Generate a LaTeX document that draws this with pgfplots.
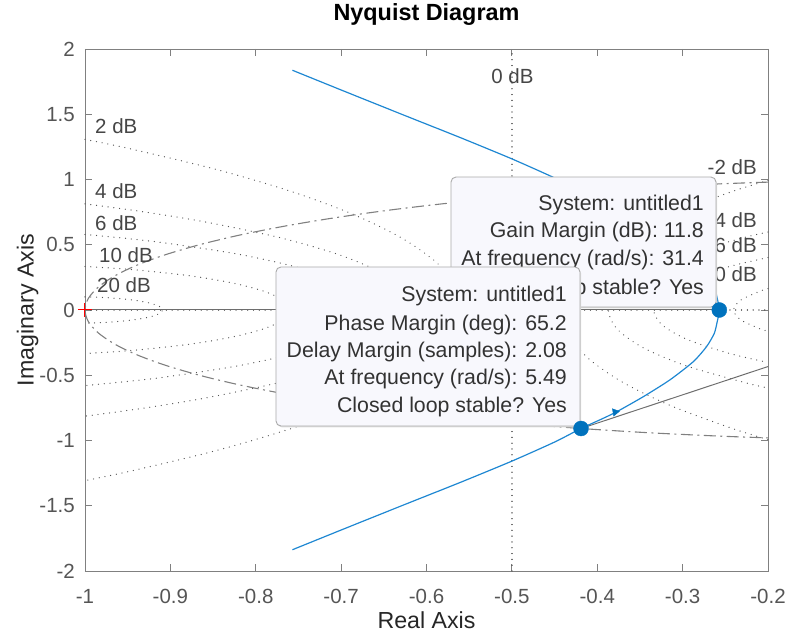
\documentclass[border=0pt]{standalone}
\usepackage{fontspec}
\setmainfont{Liberation Sans}
\usepackage{pgfplots}
\pgfplotsset{compat=1.18}
\definecolor{mblue}{RGB}{0,114,189}
\definecolor{lblue}{RGB}{30,135,210}
\definecolor{axgray}{RGB}{128,128,128}
\definecolor{txtgray}{RGB}{85,85,85}
\definecolor{gridgray}{RGB}{85,85,85}
\definecolor{lblgray}{RGB}{70,70,70}
\definecolor{tipfill}{RGB}{248,248,253}
\definecolor{tipdraw}{RGB}{170,170,170}
\definecolor{tiptext}{RGB}{50,50,50}
\definecolor{margray}{RGB}{110,110,110}
\pgfplotsset{
  mcircle/.style={gridgray, line width=1.3pt, line cap=round, dash pattern=on 0.01pt off 5.8pt, smooth, tension=0.5},
}
\tikzset{
  dblabel/.style={font=\fontsize{20.5}{24}\selectfont, text=lblgray, inner sep=0pt},
  tipline/.style={font=\fontsize{21.3}{25}\selectfont, text=tiptext, inner sep=0pt, anchor=base east},
}
\begin{document}
\begin{tikzpicture}
\useasboundingbox (-85pt,-63pt) rectangle (704pt,571pt);
\begin{axis}[
  at={(0,0)}, anchor=south west,
  width=683pt, height=522pt, scale only axis,
  xmin=-1, xmax=-0.2, ymin=-2, ymax=2,
  clip=false,
  axis line style={axgray, line width=0.8pt},
  tick style={axgray, line width=0.8pt},
  major tick length=7pt,
  xtick={-1,-0.9,-0.8,-0.7,-0.6,-0.5,-0.4,-0.3,-0.2},
  xticklabels={-1,-0.9,-0.8,-0.7,-0.6,-0.5,-0.4,-0.3,-0.2},
  ytick={-2,-1.5,-1,-0.5,0,0.5,1,1.5,2},
  yticklabels={-2,-1.5,-1,-0.5,0,0.5,1,1.5,2},
  tick label style={font=\fontsize{20.5}{24}\selectfont, text=txtgray, inner sep=0pt},
  xticklabel style={anchor=base, yshift=-32pt},
  yticklabel style={anchor=east, xshift=-10pt},
  title={Nyquist Diagram},
  title style={font=\fontsize{23.4}{28}\selectfont\bfseries, at={(axis description cs:0.5,1.0427)}, anchor=base, inner sep=0pt},
  xlabel={Real Axis}, ylabel={Imaginary Axis},
  xlabel style={font=\fontsize{23.2}{28}\selectfont, text=black!85, at={(axis description cs:0.5,-0.111)}, anchor=base, inner sep=0pt},
  ylabel style={font=\fontsize{23.2}{28}\selectfont, text=black!85, at={(axis description cs:-0.0754,0.5)}, anchor=base, inner sep=0pt},
]
% real axis and 0 dB line (dotted grid)
\addplot[mcircle] coordinates {(-1,0) (-0.2,0)};
\addplot[mcircle] coordinates {(-0.5,-2) (-0.5,2)};
% M-circles, positive dB
\addplot[mcircle] coordinates {(-1,1.3076) (-0.9466,1.2346) (-0.8457,1.0762) (-0.7590,0.9096) (-0.6871,0.7362) (-0.6306,0.5571) (-0.5900,0.3738) (-0.5655,0.1876) (-0.5573,0) (-0.5655,-0.1876) (-0.5900,-0.3738) (-0.6306,-0.5571) (-0.6871,-0.7362) (-0.7590,-0.9096) (-0.8457,-1.0762) (-0.9466,-1.2346) (-1,-1.3076)};
\addplot[mcircle] coordinates {(-1,0.8133) (-0.9332,0.7541) (-0.8584,0.6738) (-0.7724,0.5555) (-0.7037,0.4264) (-0.6537,0.2890) (-0.6233,0.1459) (-0.6131,0) (-0.6233,-0.1459) (-0.6537,-0.2890) (-0.7037,-0.4264) (-0.7724,-0.5555) (-0.8584,-0.6738) (-0.9332,-0.7541) (-1,-0.8133)};
\addplot[mcircle] coordinates {(-1,0.5792) (-0.9515,0.5483) (-0.9052,0.5127) (-0.8227,0.4302) (-0.7558,0.3347) (-0.7065,0.2289) (-0.6763,0.1162) (-0.6661,0) (-0.6763,-0.1162) (-0.7065,-0.2289) (-0.7558,-0.3347) (-0.8227,-0.4302) (-0.9052,-0.5127) (-0.9515,-0.5483) (-1,-0.5792)};
\addplot[mcircle] coordinates {(-1,0.3333) (-0.9682,0.3210) (-0.9354,0.3043) (-0.8760,0.2611) (-0.8269,0.2065) (-0.7901,0.1429) (-0.7674,0.0731) (-0.75975,0) (-0.7674,-0.0731) (-0.7901,-0.1429) (-0.8269,-0.2065) (-0.8760,-0.2611) (-0.9354,-0.3043) (-0.9682,-0.3210) (-1,-0.3333)};
\addplot[mcircle] coordinates {(-1,0.1005) (-0.9840,0.0976) (-0.9596,0.0875) (-0.9387,0.0714) (-0.9226,0.0505) (-0.9125,0.0261) (-0.9091,0) (-0.9125,-0.0261) (-0.9226,-0.0505) (-0.9387,-0.0714) (-0.9596,-0.0875) (-0.9840,-0.0976) (-1,-0.1005)};
% M-circles, negative dB
\addplot[mcircle] coordinates {(-0.2,0.9929) (-0.2411,0.9096) (-0.3129,0.7361) (-0.3694,0.5571) (-0.4100,0.3738) (-0.4345,0.1876) (-0.4427,0) (-0.4345,-0.1876) (-0.4100,-0.3738) (-0.3694,-0.5571) (-0.3129,-0.7361) (-0.2411,-0.9096) (-0.2,-0.9929)};
\addplot[mcircle] coordinates {(-0.2,0.5974) (-0.2276,0.5555) (-0.2963,0.4264) (-0.3463,0.2890) (-0.3767,0.1459) (-0.3869,0) (-0.3767,-0.1459) (-0.3463,-0.2890) (-0.2963,-0.4264) (-0.2276,-0.5555) (-0.2,-0.5974)};
\addplot[mcircle] coordinates {(-0.2,0.4016) (-0.2442,0.3347) (-0.2935,0.2289) (-0.3237,0.1162) (-0.3339,0) (-0.3237,-0.1162) (-0.2935,-0.2289) (-0.2442,-0.3347) (-0.2,-0.4016)};
\addplot[mcircle] coordinates {(-0.2,0.1633) (-0.2099,0.1429) (-0.2326,0.0731) (-0.2403,0) (-0.2326,-0.0731) (-0.2099,-0.1429) (-0.2,-0.1633)};
% unit circle (dash-dot)
\addplot[axgray, line width=1.1pt, dash pattern=on 12pt off 4.5pt on 2pt off 4.5pt, smooth, tension=0.5] coordinates {(-0.2,0.9798) (-0.2588,0.9659) (-0.3420,0.9397) (-0.4226,0.9063) (-0.5,0.8660) (-0.5736,0.8192) (-0.6428,0.7660) (-0.7071,0.7071) (-0.7660,0.6428) (-0.8192,0.5736) (-0.8660,0.5) (-0.9063,0.4226) (-0.9397,0.3420) (-0.9659,0.2588) (-0.9848,0.1736) (-0.9962,0.0872) (-1,0) (-0.9962,-0.0872) (-0.9848,-0.1736) (-0.9659,-0.2588) (-0.9397,-0.3420) (-0.9063,-0.4226) (-0.8660,-0.5) (-0.8192,-0.5736) (-0.7660,-0.6428) (-0.7071,-0.7071) (-0.6428,-0.7660) (-0.5736,-0.8192) (-0.5,-0.8660) (-0.4226,-0.9063) (-0.3420,-0.9397) (-0.2588,-0.9659) (-0.2,-0.9798)};
% margin lines
\addplot[margray, line width=1pt] coordinates {(-1,0) (-0.257,0)};
\addplot[margray, line width=1pt] coordinates {(-0.419,-0.908) (-0.2,-0.4334)};
% Nyquist curve
\addplot[lblue, line width=1.2pt, smooth, tension=0.4] coordinates {(-0.757,1.837) (-0.70,1.686) (-0.628,1.497) (-0.56,1.32) (-0.5,1.158) (-0.45,1.012) (-0.419,0.908) (-0.395,0.836) (-0.377,0.779) (-0.346,0.664) (-0.315,0.536) (-0.2875,0.396) (-0.272,0.281) (-0.263,0.18) (-0.2595,0.09) (-0.257,0) (-0.2595,-0.09) (-0.263,-0.18) (-0.272,-0.281) (-0.2875,-0.396) (-0.315,-0.536) (-0.346,-0.664) (-0.377,-0.779) (-0.395,-0.836) (-0.419,-0.908) (-0.45,-1.012) (-0.5,-1.158) (-0.56,-1.32) (-0.628,-1.497) (-0.70,-1.686) (-0.757,-1.837)};
% dB labels
\node[dblabel, anchor=base west] at (axis cs:-0.9883,1.356) {2 dB};
\node[dblabel, anchor=base west] at (axis cs:-0.9883,0.8506) {4 dB};
\node[dblabel, anchor=base west] at (axis cs:-0.9883,0.613) {6 dB};
\node[dblabel, anchor=base west] at (axis cs:-0.9836,0.3678) {10 dB};
\node[dblabel, anchor=base west] at (axis cs:-0.9859,0.1379) {20 dB};
\node[dblabel, anchor=base] at (axis cs:-0.4993,1.732) {0 dB};
\node[dblabel, anchor=base east] at (axis cs:-0.213,1.04) {-2 dB};
\node[dblabel, anchor=base east] at (axis cs:-0.213,0.636) {-4 dB};
\node[dblabel, anchor=base east] at (axis cs:-0.213,0.437) {-6 dB};
\node[dblabel, anchor=base east] at (axis cs:-0.213,0.2146) {-10 dB};
% data tip 1 (gain margin)
\draw[rounded corners=5pt, fill=black!12, draw=none] (axis cs:-0.5703,0.013) rectangle (axis cs:-0.2597,1.009);
\draw[rounded corners=5pt, fill=tipfill, draw=tipdraw, line width=0.9pt] (axis cs:-0.5713,0.023) rectangle (axis cs:-0.2609,1.019);
\node[tipline] at (axis cs:-0.27497,0.7625) {System: untitled1};
\node[tipline] at (axis cs:-0.27497,0.5556) {Gain Margin (dB): 11.8};
\node[tipline] at (axis cs:-0.27497,0.3410) {At frequency (rad/s): 31.4};
\node[tipline] at (axis cs:-0.27497,0.1188) {Closed loop stable? Yes};
% data tip 2 (phase margin)
\draw[rounded corners=5pt, fill=black!12, draw=none] (axis cs:-0.7753,-0.899) rectangle (axis cs:-0.4190,0.3195);
\draw[rounded corners=5pt, fill=tipfill, draw=tipdraw, line width=0.9pt] (axis cs:-0.7763,-0.889) rectangle (axis cs:-0.4202,0.3295);
\node[tipline] at (axis cs:-0.43543,0.0651) {System: untitled1};
\node[tipline] at (axis cs:-0.43543,-0.1571) {Phase Margin (deg): 65.2};
\node[tipline] at (axis cs:-0.43543,-0.364) {Delay Margin (samples): 2.08};
\node[tipline] at (axis cs:-0.43543,-0.5709) {At frequency (rad/s): 5.49};
\node[tipline] at (axis cs:-0.43543,-0.7854) {Closed loop stable? Yes};
% markers
\addplot[only marks, mark=*, mark size=7.5pt, mblue, mark options={draw=mblue, fill=mblue}] coordinates {(-0.257,0) (-0.419,-0.908)};
\addplot[only marks, mark=triangle*, mark size=4.3pt, mblue, mark options={rotate=160, draw=mblue, fill=mblue}] coordinates {(-0.379,-0.782)};
\addplot[only marks, mark=+, mark size=7pt, red, line width=1pt] coordinates {(-1,0)};
\end{axis}
\end{tikzpicture}
\end{document}
